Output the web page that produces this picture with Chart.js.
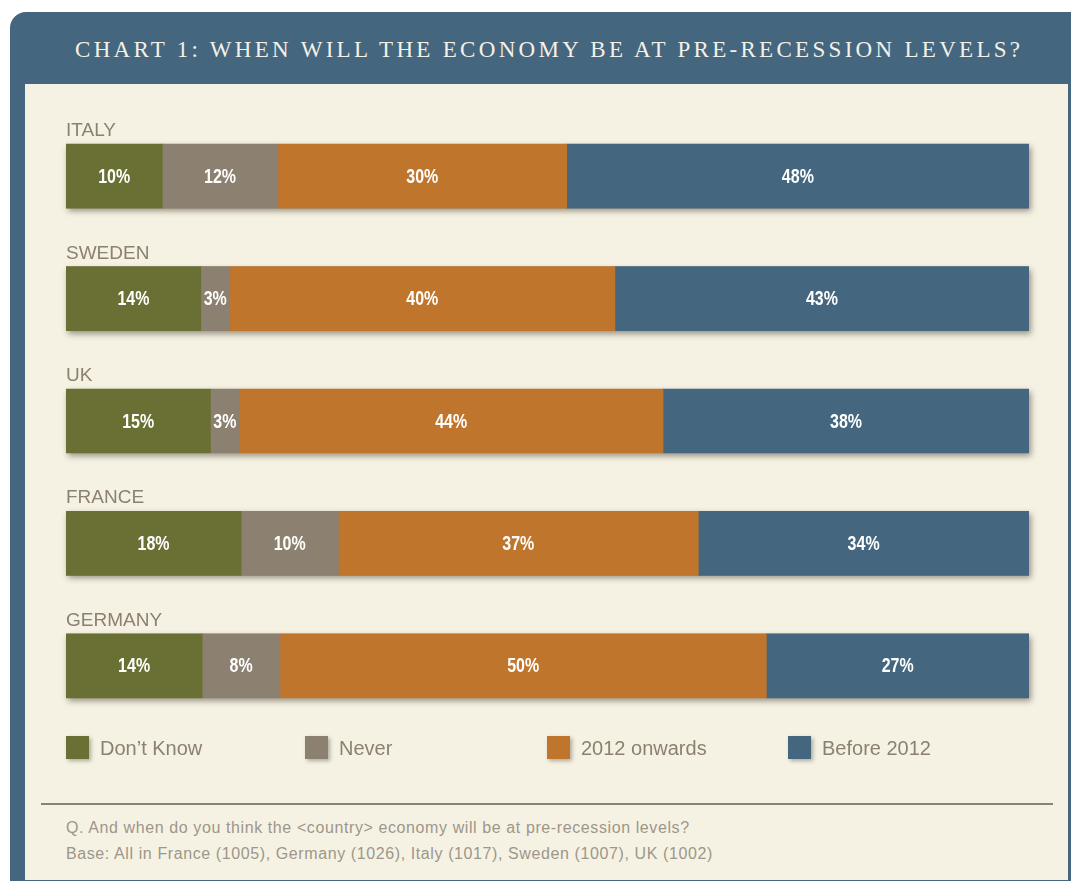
<!DOCTYPE html>
<html>
<head>
<meta charset="utf-8">
<script src="https://cdn.jsdelivr.net/npm/chart.js@4.4.1/dist/chart.umd.min.js"></script>
<style>
  html, body { margin: 0; padding: 0; background: #ffffff; }
  body { width: 1071px; height: 883px; position: relative; overflow: hidden; font-family: "Liberation Sans", Arial, sans-serif; }
  #panel { position: absolute; left: 10px; top: 12px; width: 1080px; height: 869px; background: #44667f; border-radius: 16px 0 0 0; }
  #title { position: absolute; left: 75px; top: 12px; height: 72px; line-height: 75px; white-space: nowrap;
           color: #f4f1e6; font-family: "Liberation Serif", "DejaVu Serif", serif; font-size: 23px; letter-spacing: 3.3px; text-transform: uppercase; }
  #inner { position: absolute; left: 25px; top: 84px; width: 1043px; height: 796px; background: #f6f2e3; }
  #chartWrap { position: absolute; left: 25px; top: 84px; width: 1043px; height: 650px; }
  #legend { position: absolute; top: 736px; left: 0; width: 1071px; height: 24px; }
  .lg-item { position: absolute; top: 0; height: 24px; }
  .lg-box { position: absolute; left: 0; top: 0; width: 23px; height: 23px; box-shadow: 2px 2px 4px rgba(0,0,0,0.3); }
  .lg-text { position: absolute; left: 34px; top: 0; line-height: 24px; font-size: 20px; color: #8c8070; white-space: nowrap; }
  #rule { position: absolute; left: 41px; top: 803px; width: 1012px; height: 2px; background: #8c8070; }
  .note { position: absolute; left: 66px; font-size: 16px; letter-spacing: 0.6px; color: #9d968a; white-space: nowrap; }
</style>
</head>
<body>
<div id="panel"></div>
<div id="title">Chart 1: When will the economy be at pre-recession levels?</div>
<div id="inner"></div>
<div id="chartWrap"><canvas id="econChart" width="1043" height="650"></canvas></div>
<div id="legend"></div>
<div id="rule"></div>
<div class="note" style="top:819px;">Q. And when do you think the &lt;country&gt; economy will be at pre-recession levels?</div>
<div class="note" style="top:845px;">Base: All in France (1005), Germany (1026), Italy (1017), Sweden (1007), UK (1002)</div>

<script>
// Survey results, % per country (as printed on the bars)
const countries   = ['ITALY', 'SWEDEN', 'UK', 'FRANCE', 'GERMANY'];
const dontKnow    = [10, 14, 15, 18, 14];
const never       = [12, 3, 3, 10, 8];
const onwards2012 = [30, 40, 44, 37, 50];
const before2012  = [48, 43, 38, 34, 27];

const seriesNames  = ["Don\u2019t Know", 'Never', '2012 onwards', 'Before 2012'];
const seriesValues = [dontKnow, never, onwards2012, before2012];
const seriesColors = ['#6a7033', '#8c8070', '#c0752d', '#44667f'];
const legendX      = [66, 305, 547, 788];

// rows that don't add up to 100 (rounding) still fill the full width
const rowTotals = countries.map((c, j) => seriesValues.reduce((s, arr) => s + arr[j], 0));

const barLabels = {
    id: 'barLabels',
    beforeDatasetsDraw(chart) {
        const ctx = chart.ctx;
        const first = chart.getDatasetMeta(0).data;
        const last = chart.getDatasetMeta(chart.data.datasets.length - 1).data;
        ctx.save();
        ctx.shadowColor = 'rgba(40,30,20,0.45)';
        ctx.shadowBlur = 6;
        ctx.shadowOffsetX = 2;
        ctx.shadowOffsetY = 3;
        ctx.fillStyle = '#8c8070';
        first.forEach((bar, j) => {
            const end = last[j];
            ctx.fillRect(bar.base, bar.y - bar.height / 2, end.x - bar.base, bar.height);
        });
        ctx.restore();
    },
    afterDatasetsDraw(chart) {
        const ctx = chart.ctx;
        ctx.save();
        // values inside segments, squeezed to look like a condensed face
        ctx.fillStyle = '#ffffff';
        ctx.textAlign = 'center';
        ctx.textBaseline = 'middle';
        ctx.font = "bold 20px 'Liberation Sans', Arial, sans-serif";
        chart.data.datasets.forEach((ds, i) => {
            chart.getDatasetMeta(i).data.forEach((bar, j) => {
                ctx.save();
                ctx.translate((bar.x + bar.base) / 2, bar.y + 1);
                ctx.scale(0.8, 1);
                ctx.fillText(seriesValues[i][j] + '%', 0, 0);
                ctx.restore();
            });
        });
        // country names above each bar
        ctx.fillStyle = '#8c8070';
        ctx.textAlign = 'left';
        ctx.textBaseline = 'alphabetic';
        ctx.font = "19px 'Liberation Sans', Arial, sans-serif";
        chart.getDatasetMeta(0).data.forEach((bar, j) => {
            ctx.fillText(countries[j], chart.chartArea.left, bar.y - bar.height / 2 - 8);
        });
        ctx.restore();
    }
};

const chart = new Chart(document.getElementById('econChart'), {
    type: 'bar',
    data: {
        labels: countries,
        datasets: seriesNames.map((name, i) => ({
            label: name,
            data: seriesValues[i].map((v, j) => v / rowTotals[j] * 100),
            backgroundColor: seriesColors[i],
            borderWidth: 0,
            barThickness: 64
        }))
    },
    options: {
        indexAxis: 'y',
        responsive: false,
        animation: false,
        layout: { padding: { left: 41, right: 39, top: 31, bottom: 7 } },
        scales: {
            x: { stacked: true, min: 0, max: 100, display: false },
            y: { stacked: true, display: false }
        },
        plugins: {
            legend: { display: false },
            tooltip: { enabled: false }
        }
    },
    plugins: [barLabels]
});

// legend
const legendEl = document.getElementById('legend');
chart.data.datasets.forEach((ds, i) => {
    const item = document.createElement('div');
    item.className = 'lg-item';
    item.style.left = legendX[i] + 'px';
    item.innerHTML = '<div class="lg-box" style="background:' + ds.backgroundColor + '"></div>' +
                     '<div class="lg-text">' + ds.label + '</div>';
    legendEl.appendChild(item);
});
</script>
</body>
</html>
